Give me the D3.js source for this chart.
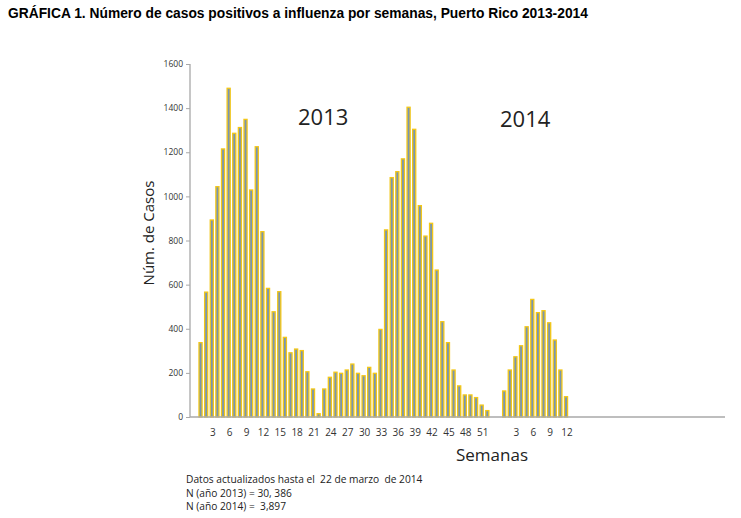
<!DOCTYPE html>
<html>
<head>
<meta charset="utf-8">
<script src="https://cdn.jsdelivr.net/npm/d3@7"></script>
<style>
    body{margin:0;background:#fff;}
    text{white-space:pre;}
</style>
</head>
<body>
<svg id="chart" width="741" height="518"></svg>
<script>
// casos por semana
var casos2013 = [337, 566, 893, 1044, 1215, 1490, 1286, 1312, 1349, 1029, 1225, 840, 583, 477, 568, 361,
    291, 308, 301, 205, 127, 15, 127, 180, 203, 198, 213, 240, 198, 187, 225, 198, 397, 848, 1085, 1112,
    1170, 1404, 1304, 958, 820, 878, 666, 432, 337, 213, 141, 100, 100, 88, 54, 29];
var casos2014 = [118, 213, 273, 323, 409, 533, 473, 482, 427, 349, 213, 92];
var huecoSemanas = 2;     // categorias vacias entre 2013 y 2014
var finalVacias = 28;     // categorias vacias al final del eje
var yTicks = [0, 200, 400, 600, 800, 1000, 1200, 1400, 1600];
var etiquetas2013 = [3, 6, 9, 12, 15, 18, 21, 24, 27, 30, 33, 36, 39, 42, 45, 48, 51];
var etiquetas2014 = [3, 6, 9, 12];
var titulo = "GRÁFICA 1. Número de casos positivos a influenza por semanas, Puerto Rico 2013-2014";
var notas = ["Datos actualizados hasta el  22 de marzo  de 2014", "N (año 2013) = 30, 386", "N (año 2014) =  3,897"];

var datos = [];
casos2013.forEach(function(v, i){ datos.push({key: "2013-" + (i + 1), year: 2013, week: i + 1, value: v}); });
for(var g = 0; g < huecoSemanas; g++){ datos.push({key: "gap-" + g, value: null}); }
casos2014.forEach(function(v, i){ datos.push({key: "2014-" + (i + 1), year: 2014, week: i + 1, value: v}); });
for(var t = 0; t < finalVacias; t++){ datos.push({key: "end-" + t, value: null}); }

var svg = d3.select("#chart");
var plotLeft = 190, plotRight = 725, plotTop = 64, plotBottom = 417;

var x = d3.scaleBand()
    .domain(datos.map(function(d){ return d.key; }))
    .range([plotLeft, plotRight])
    .paddingInner(0.45)
    .paddingOuter(0.8)
    .align(1);
var y = d3.scaleLinear().domain([0, 1600]).range([plotBottom, plotTop]);

svg.append("text")
    .attr("x", 8).attr("y", 18)
    .style("font-family", "'Liberation Sans', Arial, sans-serif")
    .style("font-weight", "bold")
    .style("font-size", "13.8px")
    .text(titulo);

// barras
svg.append("g").selectAll("rect")
    .data(datos.filter(function(d){ return d.value != null; }))
    .enter().append("rect")
    .attr("x", function(d){ return x(d.key); })
    .attr("width", x.bandwidth())
    .attr("y", function(d){ return y(d.value); })
    .attr("height", function(d){ return plotBottom - y(d.value); })
    .style("fill", "#7895b0")
    .style("stroke", "#f3c718")
    .style("stroke-width", 1.3);

// eje y
var yAxis = svg.append("g")
    .attr("transform", "translate(" + plotLeft + ",0)")
    .call(d3.axisLeft(y).tickValues(yTicks).tickSize(4).tickPadding(3).tickFormat(d3.format("d")));
yAxis.select(".domain").style("stroke", "#a8a8a8").style("stroke-width", 1.3).attr("d", "M0," + plotTop + "V" + plotBottom);
yAxis.selectAll(".tick line").style("stroke", "#a8a8a8");
yAxis.selectAll(".tick text")
    .style("font-family", "'Open Sans', sans-serif")
    .style("font-size", "8.5px")
    .style("fill", "#333");

// eje x
svg.append("line")
    .attr("x1", plotLeft).attr("x2", plotRight)
    .attr("y1", plotBottom).attr("y2", plotBottom)
    .style("stroke", "#a8a8a8")
    .style("stroke-width", 1.5);

var etiquetas = etiquetas2013.map(function(w){ return "2013-" + w; })
    .concat(etiquetas2014.map(function(w){ return "2014-" + w; }));
svg.append("g").selectAll("text")
    .data(etiquetas)
    .enter().append("text")
    .attr("x", function(k){ return x(k) + x.bandwidth() / 2 + 1; })
    .attr("y", 436)
    .attr("text-anchor", "middle")
    .style("font-family", "'Open Sans', sans-serif")
    .style("font-size", "10px")
    .style("fill", "#333")
    .text(function(k){ return k.split("-")[1]; });

svg.append("text")
    .attr("transform", "translate(154,233) rotate(-90)")
    .attr("text-anchor", "middle")
    .style("font-family", "'Open Sans', sans-serif")
    .style("font-size", "15px")
    .style("fill", "#222")
    .text("Núm. de Casos");

svg.append("text")
    .attr("x", 492).attr("y", 461)
    .attr("text-anchor", "middle")
    .style("font-family", "'Open Sans', sans-serif")
    .style("font-size", "17px")
    .style("fill", "#222")
    .text("Semanas");

svg.append("text")
    .attr("x", 298).attr("y", 125)
    .style("font-family", "'Open Sans', sans-serif")
    .style("font-size", "22px")
    .style("fill", "#222")
    .text("2013");
svg.append("text")
    .attr("x", 500).attr("y", 127)
    .style("font-family", "'Open Sans', sans-serif")
    .style("font-size", "22px")
    .style("fill", "#222")
    .text("2014");

svg.append("g").selectAll("text")
    .data(notas)
    .enter().append("text")
    .attr("x", 186)
    .attr("y", function(d, i){ return 483 + i * 13.5; })
    .style("font-family", "'Open Sans', sans-serif")
    .style("font-size", "10.2px")
    .style("fill", "#222")
    .text(function(d){ return d; });
</script>
</body>
</html>
